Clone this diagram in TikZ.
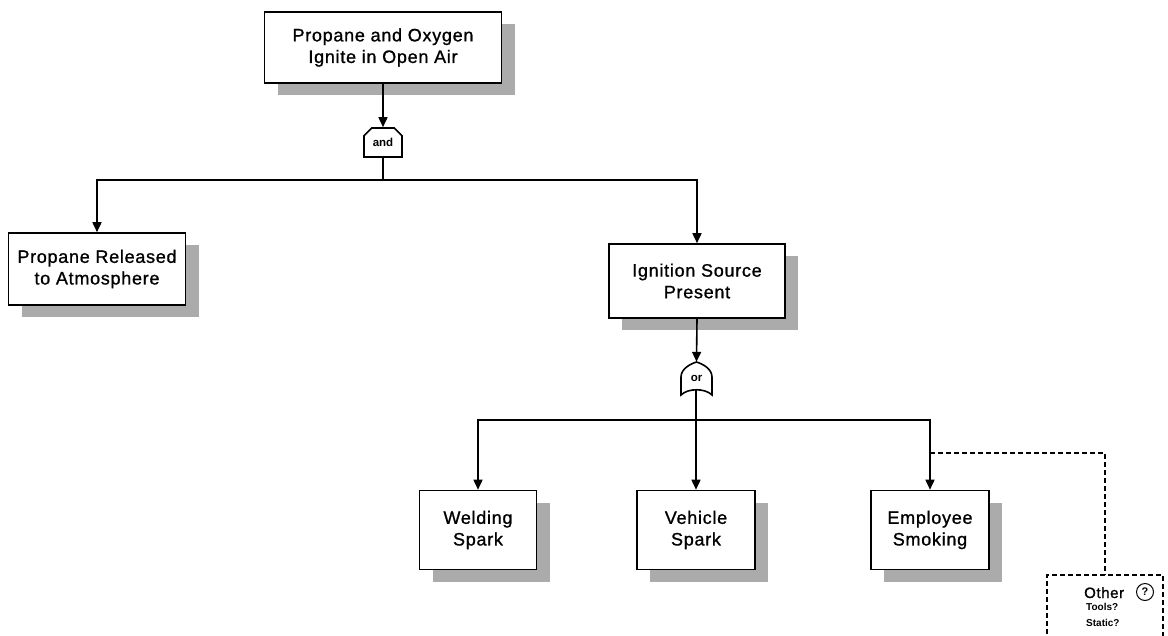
\documentclass[tikz,border=0pt]{standalone}
\usepackage{fontspec}
\setmainfont{Liberation Sans}
\newfontfamily\boxfont{Liberation Sans}[LetterSpace=4,FakeBold=1]
\newfontfamily\smallfont{Liberation Sans}[LetterSpace=4,FakeBold=1]
\usetikzlibrary{arrows.meta,shadows,shapes.misc}
\begin{document}
\begin{tikzpicture}[x=1pt,y=-1pt,
  event/.style={draw, line width=1.6pt, fill=white, align=center, inner sep=0pt,
    font=\boxfont\fontsize{18}{21.6}\selectfont,
    drop shadow={opacity=1, fill=black!33, shadow xshift=13pt, shadow yshift=-12pt}},
  conn/.style={line width=1.6pt},
  arr/.style={conn, -{Triangle[length=10pt,width=9pt]}},
  dashconn/.style={line width=1.2pt, dash pattern=on 5pt off 3pt},
  gatetext/.style={font=\bfseries\fontsize{11.5}{12}\selectfont, inner sep=0pt}]
\clip (0,0) rectangle (1168,635);
\fill[white] (0,0) rectangle (1168,635);

% events
\node[event, minimum width=237pt, minimum height=71pt] (top) at (383,47.5)
  {Propane and Oxygen\\Ignite in Open Air};
\node[event, minimum width=177pt, minimum height=72pt] (rel) at (97,269)
  {Propane Released\\to Atmosphere};
\node[event, minimum width=176pt, minimum height=74pt] (ign) at (697,281)
  {Ignition Source\\Present};
\node[event, minimum width=117pt, minimum height=79pt] (weld) at (478,530)
  {Welding\\Spark};
\node[event, minimum width=118pt, minimum height=79pt] (veh) at (696,530)
  {Vehicle\\Spark};
\node[event, minimum width=118pt, minimum height=79pt] (emp) at (930,530)
  {Employee\\Smoking};

% AND gate
\node[chamfered rectangle, chamfered rectangle corners={north west,north east},
  chamfered rectangle xsep=5pt, draw, line width=1.6pt, fill=white,
  minimum width=38pt, minimum height=29pt, inner sep=0pt, gatetext] (andg) at (383,142.5) {and};

% OR gate
\node[minimum width=31pt, minimum height=28pt, inner sep=0pt] (org) at (696.5,376) {};
\draw[line width=1.6pt, fill=white]
  (681,395) -- (681,377) .. controls (681,369) and (690,364) .. (696.5,362)
  .. controls (703,364) and (712,369) .. (712,377) -- (712,395)
  .. controls (705,388) and (688,388) .. (681,395) -- cycle;
\node[gatetext] (ortext) at (696.5,378) {or};

% Other (undeveloped) box
\node[draw, dashconn, minimum width=116pt, minimum height=90pt,
  inner sep=0pt] (other) at (1105,620) {};
\node[font=\smallfont\fontsize{15}{16}\selectfont, anchor=base west, inner sep=0pt] (othert) at (1084,598) {Other};
\node[draw, circle, line width=1pt, minimum size=17pt, inner sep=0pt,
  font=\bfseries\fontsize{11}{12}\selectfont] (q) at (1145,592) {?};
\node[font=\bfseries\fontsize{10}{11}\selectfont, anchor=base west, inner sep=0pt] (tools) at (1086,610) {Tools?};
\node[font=\bfseries\fontsize{10}{11}\selectfont, anchor=base west, inner sep=0pt] (static) at (1086,626) {Static?};

% connectors
\coordinate (j1) at (383,180);
\coordinate (j2) at (696,420);
\coordinate (dj) at (930,453);
\draw[arr] (top.south) -- (andg.north);
\draw[conn] (andg.south) -- (j1);
\draw[arr] (j1) -| (rel.north);
\draw[arr] (j1) -| (ign.north);
\draw[arr] (ign.south) -- (org.north);
\draw[conn] (696,390) -- (j2);
\draw[arr] (j2) -| (weld.north);
\draw[arr] (j2) -- (veh.north);
\draw[arr] (j2) -| (emp.north);
\draw[dashconn] (dj) -| (other.north);
\end{tikzpicture}
\end{document}
